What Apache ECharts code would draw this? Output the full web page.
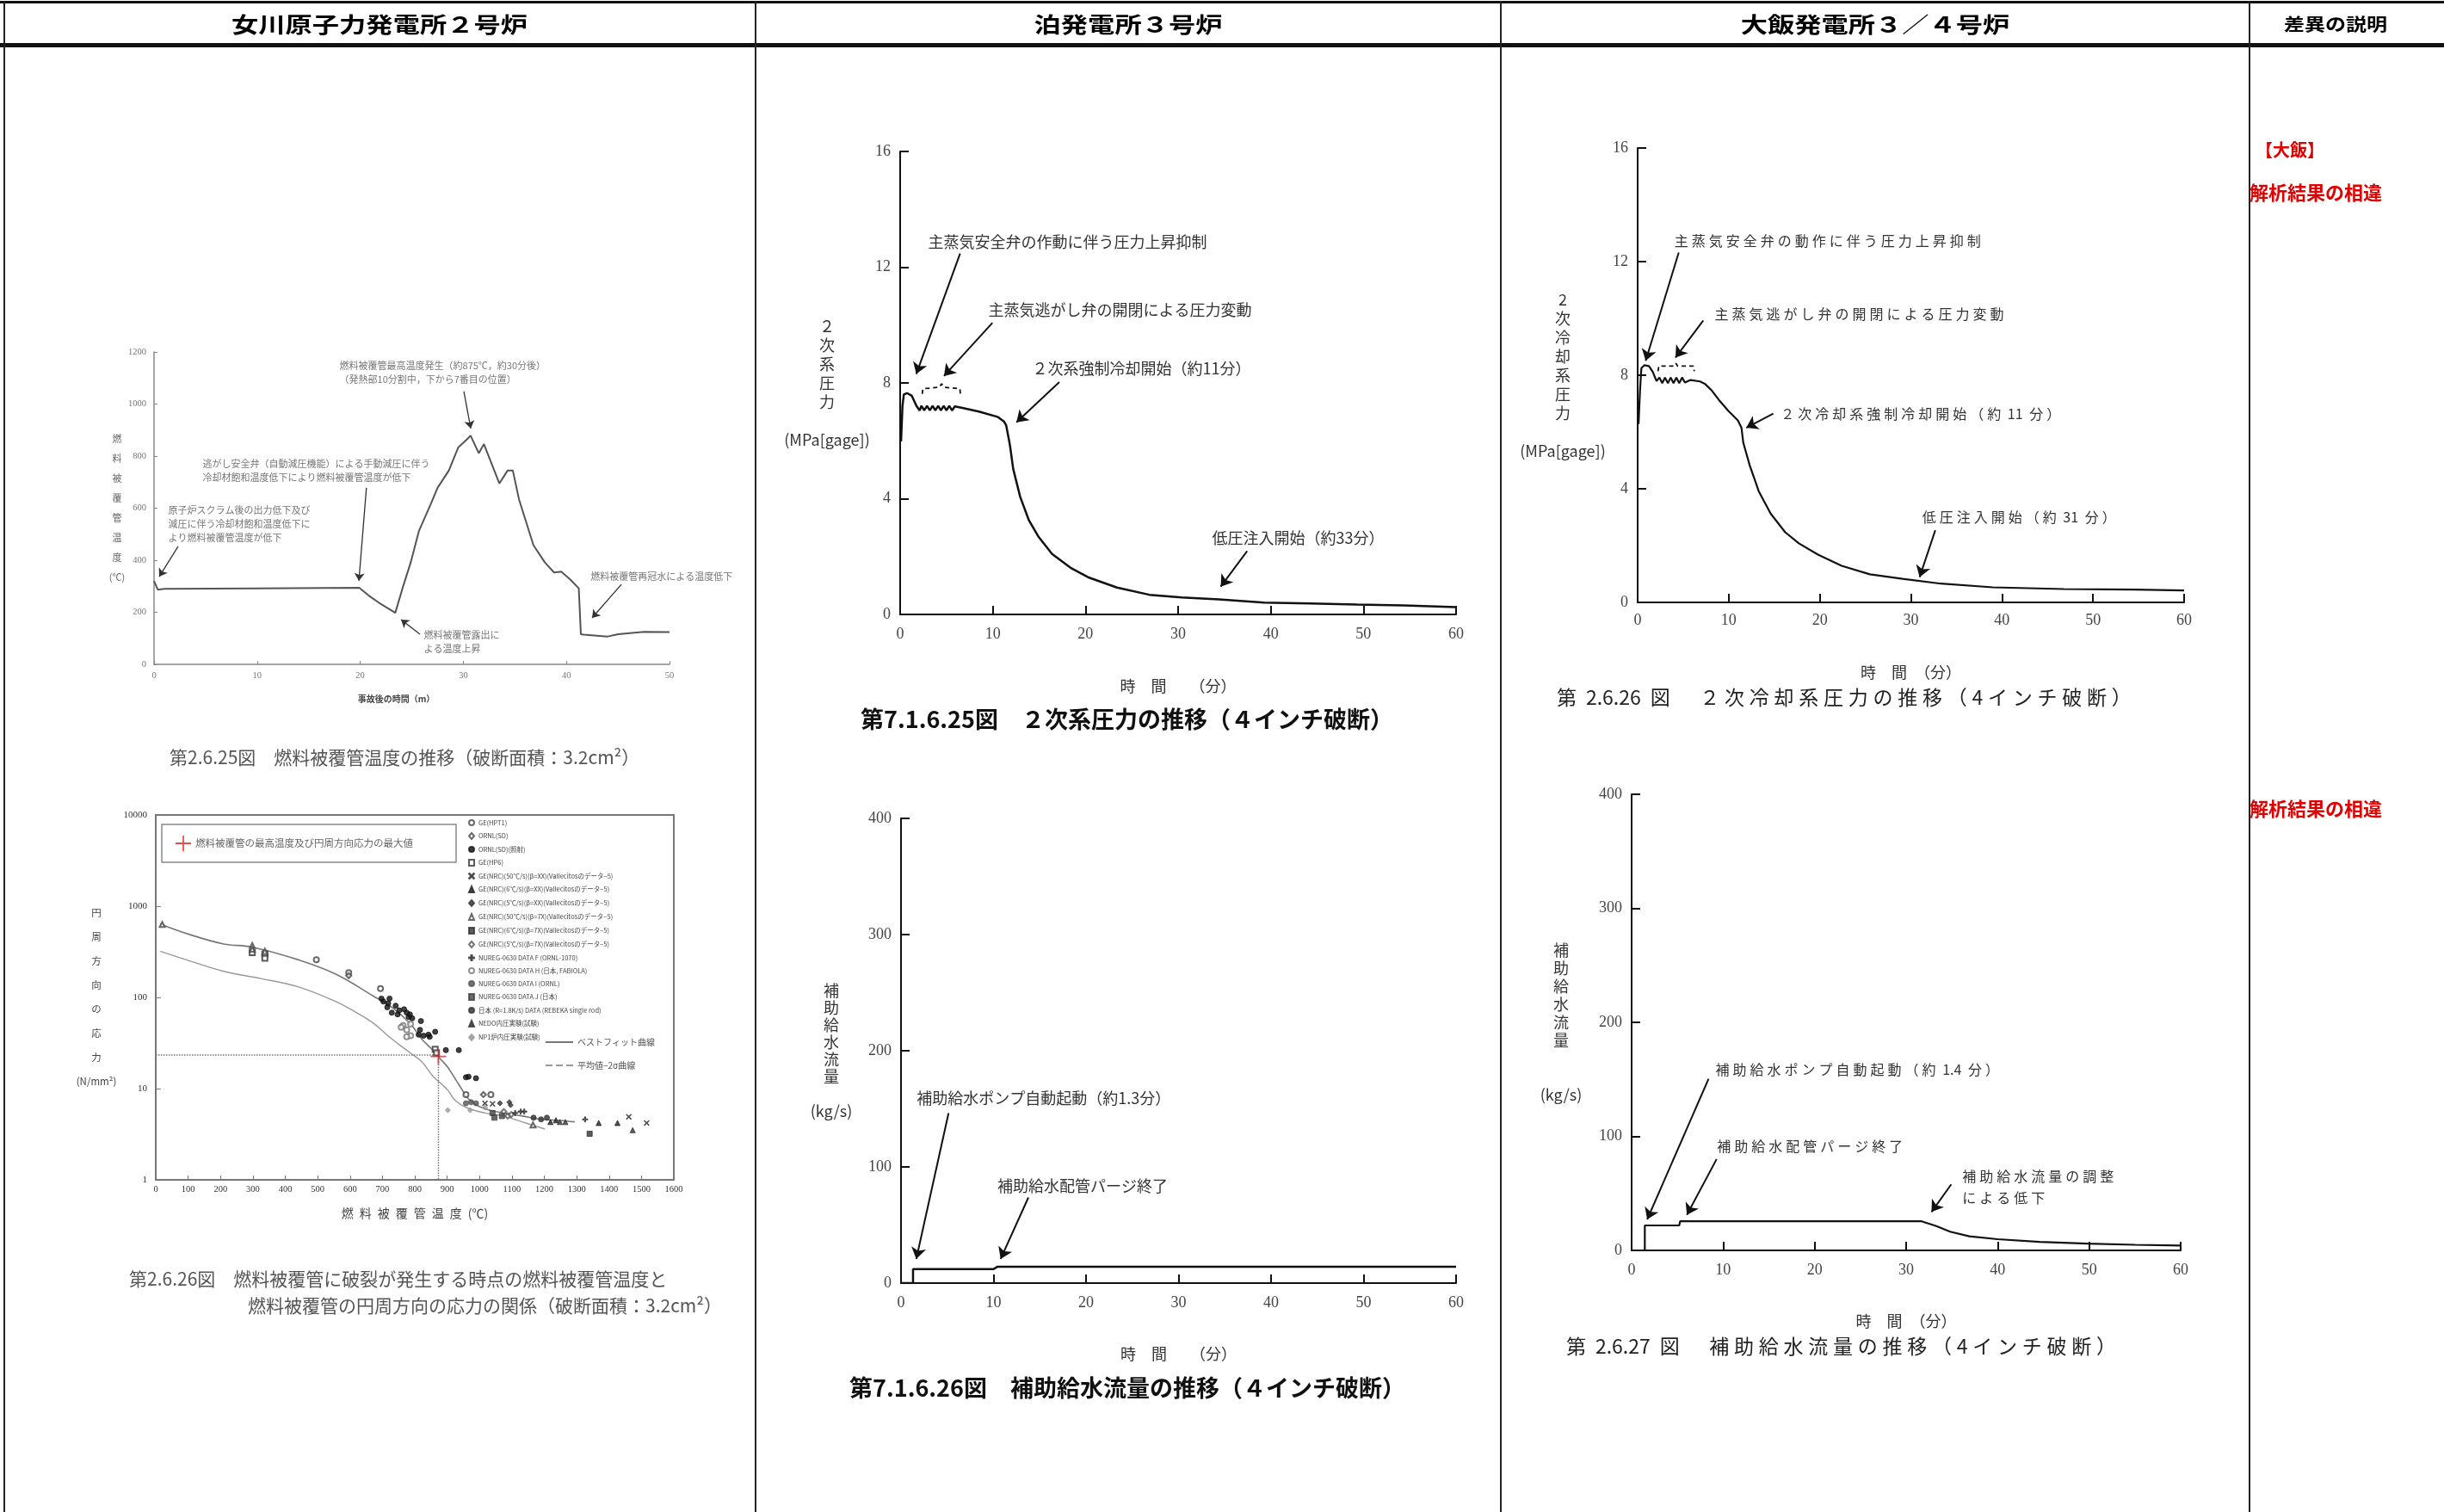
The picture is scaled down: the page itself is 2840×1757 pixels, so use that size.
<!DOCTYPE html>
<html><head><meta charset="utf-8">
<script src="https://cdn.jsdelivr.net/npm/echarts@6.0.0/dist/echarts.min.js"></script>
<style>html,body{margin:0;padding:0;background:#fff}#c{width:2840px;height:1757px}</style>
</head><body><div id="c"></div>
<script>
// ===================== DATA =====================
// A: 女川 燃料被覆管温度 (min, ℃)
const aTime = [0, 0.36, 1.0, 10, 19.9, 20.8, 21.8, 23.0, 23.4, 24.1, 24.9, 25.7, 26.8, 27.5, 28.6, 29.5, 30.4, 30.7, 31.5, 32.0, 33.5, 34.3, 34.8, 35.4, 36.8, 37.9, 38.8, 39.5, 40.4, 41.2, 41.4, 41.7, 44.0, 45.0, 47.5, 50];
const aTemp = [320, 287, 290, 292, 294, 265, 237, 208, 198, 292, 392, 513, 612, 678, 745, 833, 866, 879, 811, 846, 695, 745, 745, 634, 458, 392, 353, 356, 325, 292, 116, 114, 107, 116, 125, 124];
// B: 破裂時温度と円周方向応力
const bfT = [14, 100, 210, 296, 441, 556, 671, 729, 787, 821, 856, 879, 902, 936, 971, 1017, 1075, 1133, 1190, 1248, 1294];
const bfS = [638, 495, 385, 357, 258, 180, 104, 78, 51, 35, 26.4, 21.2, 17.1, 11.1, 7.4, 6.0, 5.4, 5.0, 4.6, 4.48, 4.32];
const m2T = [14, 95, 210, 325, 441, 556, 614, 671, 729, 787, 821, 856, 879, 902, 925, 959, 1017, 1075, 1133, 1202];
const m2S = [321, 258, 193, 161, 130, 90, 70, 52.5, 35, 24.5, 19.8, 13.7, 11.5, 9.6, 7.4, 6.2, 5.4, 5.0, 4.3, 3.6];
const bMaxPoint = [873, 22.5];
const bGuide = [[0, 23.3], [873, 23.3], [873, 1]];
const bNames = ['GE(HPT1)', 'ORNL(SD)', 'ORNL(SD)(照射)', 'GE(HP6)',
  'GE(NRC)(50℃/s)(β=XX)(Vallecitosのデータ−5)', 'GE(NRC)(6℃/s)(β=XX)(Vallecitosのデータ−5)', 'GE(NRC)(5℃/s)(β=XX)(Vallecitosのデータ−5)',
  'GE(NRC)(50℃/s)(β=7X)(Vallecitosのデータ−5)', 'GE(NRC)(6℃/s)(β=7X)(Vallecitosのデータ−5)', 'GE(NRC)(5℃/s)(β=7X)(Vallecitosのデータ−5)',
  'NUREG-0630 DATA F (ORNL-1070)', 'NUREG-0630 DATA H (日本, FABIOLA)', 'NUREG-0630 DATA I (ORNL)', 'NUREG-0630 DATA J (日本)',
  '日本 (R=1.8K/s) DATA (REBEKA single rod)', 'NEDO内圧実験(試験)', 'NP1炉内圧実験(試験)'];
const bPoints = [
  [[496,258],[596,187],[694,125],[958,8.6],[1035,8.6]],
  [[596,173],[1012,8.6]],
  [[697,97],[703,90],[718,86],[722,97],[715,78],[729,68],[741,81],[747,65],[752,72],[767,74],[775,68],[781,61],[785,65],[792,59],[819,55],[816,44],[812,39],[827,38],[842,39],[846,37],[863,42],[896,26.4],[936,26.4],[958,13.3],[966,13.5],[989,13.0]],
  [[298,310],[337,300],[337,268],[863,27],[867,24.6]],
  [[1017,6.9],[1040,6.8],[1461,4.9],[1516,4.2]],
  [[1368,4.2],[1426,4.2],[1236,4.5],[1219,4.3]],
  [[1063,6.9],[1092,7.1],[1096,6.6]],
  [[20,630],[298,371],[298,337],[337,320],[1165,4.0]],
  [[1340,3.2]],
  [[1075,5.6],[1087,5.0],[1098,5.2]],
  [[1110,5.4],[1127,5.6],[1138,5.6],[1326,4.6]],
  [[764,49],[758,47],[775,44],[787,51],[787,38],[775,37]],
  [[958,6.9],[974,7.1],[989,6.9]],
  [[1040,5.4],[1046,4.8],[1069,5.0]],
  [[1167,4.8],[1190,4.6],[1208,4.8]],
  [[1248,4.3],[1265,4.3],[1473,3.5]],
  [[902,5.8],[971,5.8],[1017,6.2]]
];
// C: 泊 2次系圧力 (min, MPa)
const cTime = [0.1, 0.25, 0.4, 0.75, 1.25, 1.75, 2.1, 2.3, 2.6, 2.9, 3.2, 3.5, 3.8, 4.1, 4.4, 4.7, 5.0, 5.3, 5.6, 5.9, 6.5, 8.5, 10.5, 11.2, 11.45, 11.85, 12.2, 12.95, 13.9, 14.9, 16.4, 18.4, 20.4, 23.4, 26.9, 30.4, 34.4, 39.3, 44.3, 49.3, 54.3, 60];
const cPres = [5.98, 7.2, 7.6, 7.65, 7.56, 7.21, 7.05, 7.21, 7.05, 7.21, 7.05, 7.21, 7.05, 7.21, 7.05, 7.21, 7.05, 7.21, 7.05, 7.19, 7.15, 7.01, 6.83, 6.67, 6.53, 5.85, 5.03, 4.07, 3.25, 2.7, 2.09, 1.61, 1.27, 0.93, 0.68, 0.59, 0.52, 0.41, 0.38, 0.34, 0.31, 0.25];
const cBrT = [2.39, 2.45, 4.2, 4.48, 4.75, 6.45, 6.5];
const cBrP = [7.62, 7.8, 7.85, 7.97, 7.85, 7.8, 7.62];
// D: 泊 補助給水流量 (min, kg/s)
const dTime = [0, 1.3, 1.3, 10.0, 10.4, 60];
const dFlow = [0, 0, 12, 12, 14, 14];
// E: 大飯 2次冷却系圧力
const eTime = [0.1, 0.26, 0.41, 0.73, 1.24, 1.66, 2.07, 2.39, 2.7, 3.0, 3.32, 3.63, 3.94, 4.25, 4.56, 4.88, 5.19, 5.81, 6.85, 7.37, 8.14, 8.92, 9.96, 11.0, 11.4, 11.6, 12.3, 13.3, 14.6, 16.2, 17.7, 19.8, 22.4, 25.5, 29.1, 33.3, 39.0, 46.8, 54.6, 60];
const ePres = [6.28, 7.46, 8.25, 8.35, 8.32, 8.12, 7.79, 7.92, 7.72, 7.92, 7.72, 7.92, 7.72, 7.92, 7.72, 7.92, 7.74, 7.83, 7.78, 7.70, 7.46, 7.13, 6.74, 6.41, 6.15, 5.62, 4.83, 3.91, 3.13, 2.47, 2.08, 1.68, 1.29, 0.99, 0.83, 0.66, 0.53, 0.47, 0.45, 0.42];
const eBrT = [2.23, 2.33, 3.99, 4.2, 4.4, 6.12, 6.22];
const eBrP = [8.14, 8.32, 8.32, 8.42, 8.32, 8.32, 8.14];
// F: 大飯 補助給水流量
const fTime = [0, 1.44, 1.44, 5.2, 5.3, 31.7, 33.3, 34.8, 36.9, 40.0, 44.6, 49.8, 55.0, 60];
const fFlow = [0, 0, 21.9, 21.9, 25.5, 25.5, 21.3, 16.4, 12.4, 9.8, 7.5, 5.9, 4.9, 4.3];

// tick settings
const tA = {xMax: 50, xInt: 10, yMax: 1200, yInt: 200};
const tB = {xMax: 1600, xInt: 100, yMin: 1, yMax: 10000};
const tP = {xMax: 60, xInt: 10, yMax: 16, yInt: 4};
const tF = {xMax: 60, xInt: 10, yMax: 400, yInt: 100};

// ===================== HELPERS =====================
const CJK = "'Noto Sans CJK JP','Noto Sans',sans-serif";
const SERIF = "'Liberation Serif','Noto Sans CJK JP',serif";
const zip = (a, b) => a.map((v, i) => [v, b[i]]);
const sp = s => {
  const asc = c => /[0-9.\s]/.test(c);
  const ch = Array.from(s);
  return ch.map((c, i) => (i > 0 && !(asc(ch[i - 1]) && asc(c)) ? '\u2005' : '') + c).join('');
};

// annotations (text in data coords)
const aNotes = [
  {t: '原子炉スクラム後の出力低下及び\n減圧に伴う冷却材飽和温度低下に\nより燃料被覆管温度が低下', at: [1.34, 539]},
  {t: '逃がし安全弁（自動減圧機能）による手動減圧に伴う\n冷却材飽和温度低下により燃料被覆管温度が低下', at: [4.67, 744]},
  {t: '燃料被覆管最高温度発生（約875℃，約30分後）\n（発熱部10分割中，下から7番目の位置）', at: [17.95, 1121]},
  {t: '燃料被覆管露出に\nよる温度上昇', at: [26.13, 88]},
  {t: '燃料被覆管再冠水による温度低下', at: [42.3, 337]}
];
const aArrows = [[[2.34,453],[0.5,337]], [[20.6,678],[19.87,321]], [[30.05,1048],[30.72,906]], [[25.79,116],[23.96,172]], [[45.33,307],[42.49,178.5]]];
const cNotes = [
  {t: '主蒸気安全弁の作動に伴う圧力上昇抑制', at: [2.97, 12.88]},
  {t: '主蒸気逃がし弁の開閉による圧力変動', at: [9.47, 10.53]},
  {t: '２次系強制冷却開始（約11分）', at: [14.21, 8.51]},
  {t: '低圧注入開始（約33分）', at: [33.62, 2.65]}
];
const cArrows = [[[6.47,12.47],[1.74,8.31]], [[9.96,10.08],[4.73,8.24]], [[17.18,8.03],[12.55,6.64]], [[37.45,2.19],[34.6,0.96]]];
const dNotes = [
  {t: '補助給水ポンプ自動起動（約1.3分）', at: [1.65, 159.5]},
  {t: '補助給水配管パージ終了', at: [10.37, 83.6]}
];
const dArrows = [[[5.14,146.3],[1.65,20.8]], [[13.77,73.7],[10.77,20.8]]];
const eNotes = [
  {t: sp('主蒸気安全弁の動作に伴う圧力上昇抑制'), at: [3.99, 12.72]},
  {t: sp('主蒸気逃がし弁の開閉による圧力変動'), at: [8.4, 10.15]},
  {t: sp('２次冷却系強制冷却開始（約 11 分）'), at: [15.66, 6.65]},
  {t: sp('低圧注入開始（約 31 分）'), at: [31.2, 3.0]}
];
const eArrows = [[[4.51,12.32],[0.88,8.51]], [[7.21,9.93],[4.15,8.62]], [[14.89,6.65],[11.93,6.15]], [[32.68,2.54],[30.96,0.89]]];
const fNotes = [
  {t: sp('補助給水ポンプ自動起動（約 1.4 分）'), at: [9.13, 158.6]},
  {t: sp('補助給水配管パージ終了'), at: [9.29, 91.6]},
  {t: sp('補助給水流量の調整') + '\n' + sp('による低下'), at: [36.1, 55.9]}
];
const fArrows = [[[8.41,150.4],[1.7,27.1]], [[9.29,80.1],[6.04,31.1]], [[34.93,57.9],[32.77,33.7]]];

function notes(list, st) {
  return {
    symbol: 'circle', symbolSize: 1, silent: true, animation: false,
    itemStyle: {color: 'rgba(0,0,0,0)'},
    label: {show: true, position: 'right', distance: 0, color: st.color, fontSize: st.fontSize,
      fontFamily: CJK, lineHeight: st.lineHeight, align: 'left', verticalAlign: 'middle'},
    data: list.map(n => ({coord: n.at, value: 0, label: {formatter: n.t}}))
  };
}
function arrows(list, st) {
  return {
    silent: true, animation: false, symbol: ['none', 'arrow'], symbolSize: st.size,
    label: {show: false}, emphasis: {disabled: true},
    lineStyle: {color: st.color, width: st.width, type: 'solid'},
    data: list.map(a => [{coord: a[0]}, {coord: a[1]}])
  };
}
const intFmt = v => String(Math.round(v));

// ===================== AXES =====================
const grids = [
  {left: 179, top: 409, width: 599, height: 363},
  {left: 181, top: 947, width: 602, height: 424, show: true, borderColor: '#777', borderWidth: 2, backgroundColor: 'transparent'},
  {left: 1046, top: 176, width: 646, height: 538},
  {left: 1047, top: 951, width: 645, height: 540},
  {left: 1903, top: 172, width: 635, height: 528},
  {left: 1896, top: 923, width: 638, height: 530}
].map(g => Object.assign({containLabel: false, outerBoundsMode: 'none'}, g));

function bigX(gi, name, gap, margin) {
  return {gridIndex: gi, type: 'value', min: 0, max: tP.xMax, interval: tP.xInt,
    name, nameLocation: 'middle', nameGap: gap, nameMoveOverlap: false,
    nameTextStyle: {fontSize: 18, color: '#333', fontFamily: CJK, verticalAlign: 'middle', align: 'center'},
    axisLine: {lineStyle: {color: '#111', width: 2}},
    axisTick: {inside: true, length: 10, lineStyle: {color: '#111', width: 2}},
    axisLabel: {margin, color: '#444', fontSize: 18, fontFamily: SERIF},
    splitLine: {show: false}};
}
function bigY(gi, t, name, gap, lh, pad) {
  return {gridIndex: gi, type: 'value', min: 0, max: t.yMax, interval: t.yInt,
    name, nameLocation: 'middle', nameGap: gap, nameRotate: 0, nameMoveOverlap: false,
    nameTextStyle: {fontSize: 18, color: '#333', fontFamily: CJK, align: 'center', verticalAlign: 'middle', lineHeight: lh, padding: pad},
    axisLine: {lineStyle: {color: '#111', width: 2}},
    axisTick: {inside: true, length: 10, lineStyle: {color: '#111', width: 2}},
    axisLabel: {margin: 11, color: '#444', fontSize: 18, fontFamily: SERIF},
    splitLine: {show: false}};
}

const xAxes = [
  {gridIndex: 0, type: 'value', min: 0, max: tA.xMax, interval: tA.xInt,
    name: '事故後の時間（m）', nameLocation: 'middle', nameGap: 40, nameMoveOverlap: false,
    nameTextStyle: {fontSize: 10, fontWeight: 'bold', color: '#444', fontFamily: CJK, verticalAlign: 'middle', align: 'center', padding: [0, 36, 0, 0]},
    axisLine: {lineStyle: {color: '#888', width: 1.5}},
    axisTick: {inside: true, length: 4, lineStyle: {color: '#888'}},
    axisLabel: {margin: 8, color: '#777', fontSize: 10.5, fontFamily: SERIF, formatter: intFmt},
    splitLine: {show: false}},
  {gridIndex: 1, type: 'value', min: 0, max: tB.xMax, interval: tB.xInt,
    name: '燃\u2002料\u2002被\u2002覆\u2002管\u2002温\u2002度\u2002(℃)', nameLocation: 'middle', nameGap: 39, nameMoveOverlap: false,
    nameTextStyle: {fontSize: 14, color: '#444', fontFamily: CJK, verticalAlign: 'middle', align: 'center'},
    axisLine: {lineStyle: {color: '#777', width: 2}},
    axisTick: {inside: true, length: 5, lineStyle: {color: '#777'}},
    axisLabel: {margin: 6, color: '#333', fontSize: 10.5, fontFamily: SERIF, formatter: intFmt},
    splitLine: {show: false}},
  bigX(2, '時　間　　（分）', 83, 14),
  bigX(3, '時　間　　（分）', 82, 14),
  bigX(4, '時　間　（分）', 81, 12),
  bigX(5, '時　間　（分）', 82, 14)
];
const yAxes = [
  {gridIndex: 0, type: 'value', min: 0, max: tA.yMax, interval: tA.yInt,
    name: '燃\n料\n被\n覆\n管\n温\n度\n(℃)', nameLocation: 'middle', nameGap: 43, nameRotate: 0, nameMoveOverlap: false,
    nameTextStyle: {fontSize: 11, color: '#666', fontFamily: CJK, align: 'center', verticalAlign: 'middle', lineHeight: 23, padding: [4, 0, 0, 0]},
    axisLine: {lineStyle: {color: '#888', width: 1.5}},
    axisTick: {inside: true, length: 4, lineStyle: {color: '#888'}},
    axisLabel: {margin: 9, color: '#777', fontSize: 10.5, fontFamily: SERIF, formatter: intFmt},
    splitLine: {show: false}},
  {gridIndex: 1, type: 'log', logBase: 10, min: tB.yMin, max: tB.yMax,
    name: '円\n周\n方\n向\nの\n応\n力\n(N/mm²)', nameLocation: 'middle', nameGap: 69, nameRotate: 0, nameMoveOverlap: false,
    nameTextStyle: {fontSize: 11.5, color: '#444', fontFamily: CJK, align: 'center', verticalAlign: 'middle', lineHeight: 28, padding: [0, 0, 10, 0]},
    axisLine: {lineStyle: {color: '#777', width: 2}},
    axisTick: {inside: true, length: 6, lineStyle: {color: '#777'}},
    axisLabel: {margin: 10, color: '#333', fontSize: 11, fontFamily: SERIF, formatter: intFmt},
    splitLine: {show: false}},
  bigY(2, tP, '２\n次\n系\n圧\n力\n\n(MPa[gage])', 85, 22, [42, 0, 0, 0]),
  bigY(3, tF, '補\n助\n給\n水\n流\n量\n\n(kg/s)', 81, 20, [40, 0, 0, 0]),
  bigY(4, tP, '2\n次\n冷\n却\n系\n圧\n力\n\n(MPa[gage])', 87, 22, [0, 0, 0, 0]),
  bigY(5, tF, '補\n助\n給\n水\n流\n量\n\n\n(kg/s)', 82, 21, [64, 0, 0, 0])
];

// ===================== SERIES =====================
const bigNote = {fontSize: 18, color: '#333', lineHeight: 22};
const spNote = {fontSize: 16, color: '#333', lineHeight: 25};
const bigArrow = {color: '#111', width: 2, size: 13};
const series = [
  {type: 'line', name: '燃料被覆管温度', xAxisIndex: 0, yAxisIndex: 0, data: zip(aTime, aTemp), symbol: 'none',
    lineStyle: {color: '#555', width: 2},
    markPoint: notes(aNotes, {fontSize: 11, color: '#777', lineHeight: 16}),
    markLine: arrows(aArrows, {color: '#333', width: 1.3, size: 9})},
  {type: 'line', name: 'ベストフィット曲線', xAxisIndex: 1, yAxisIndex: 1, data: zip(bfT, bfS), symbol: 'none', showSymbol: false, smooth: 0.4,
    lineStyle: {color: '#777', width: 1.6}, itemStyle: {color: '#777'}},
  {type: 'line', name: '平均値−2σ曲線', xAxisIndex: 1, yAxisIndex: 1, data: zip(m2T, m2S), symbol: 'none', showSymbol: false, smooth: 0.4,
    lineStyle: {color: '#999', width: 1.4}, itemStyle: {color: '#999'}},
  {type: 'line', name: 'guide', xAxisIndex: 1, yAxisIndex: 1, data: bGuide, symbol: 'none', silent: true,
    lineStyle: {color: '#777', width: 1.5, type: 'dotted'}},
];
const bSymbols = ['emptyCircle', 'emptyDiamond', 'circle', 'emptyRect',
  'path://M1,0L5,4L9,0L10,1L6,5L10,9L9,10L5,6L1,10L0,9L4,5L0,1Z', 'triangle', 'diamond',
  'emptyTriangle', 'rect', 'emptyDiamond', 'path://M4,0H6V4H10V6H6V10H4V6H0V4H4Z', 'emptyCircle',
  'circle', 'rect', 'circle', 'triangle', 'diamond'];
const bColors = ['#444', '#444', '#111', '#333', '#333', '#222', '#333', '#444', '#333', '#555', '#333', '#777', '#555', '#444', '#333', '#333', '#999'];
bNames.forEach((nm, i) => series.push({
  type: 'scatter', name: nm, xAxisIndex: 1, yAxisIndex: 1, symbol: bSymbols[i], symbolSize: 6, z: 5,
  itemStyle: {color: bColors[i], borderColor: bColors[i], borderWidth: 1}, data: bPoints[i]
}));
series.push({type: 'scatter', name: '燃料被覆管の最高温度及び円周方向応力の最大値', xAxisIndex: 1, yAxisIndex: 1, z: 6,
  symbol: 'path://M9,0H11V9H20V11H11V20H9V11H0V9H9Z', symbolSize: 18, itemStyle: {color: '#e02020'}, data: [bMaxPoint]});
series.push(
  {type: 'line', name: '２次系圧力', xAxisIndex: 2, yAxisIndex: 2, data: zip(cTime, cPres), symbol: 'none',
    lineStyle: {color: '#111', width: 2.5},
    markPoint: notes(cNotes, bigNote), markLine: arrows(cArrows, bigArrow)},
  {type: 'line', name: 'c-bracket', xAxisIndex: 2, yAxisIndex: 2, data: zip(cBrT, cBrP), symbol: 'none', silent: true,
    lineStyle: {color: '#111', width: 1.8, type: [5, 4]}},
  {type: 'line', name: '補助給水流量(泊)', xAxisIndex: 3, yAxisIndex: 3, data: zip(dTime, dFlow), symbol: 'none',
    lineStyle: {color: '#111', width: 2.5},
    markPoint: notes(dNotes, bigNote), markLine: arrows(dArrows, bigArrow)},
  {type: 'line', name: '２次冷却系圧力', xAxisIndex: 4, yAxisIndex: 4, data: zip(eTime, ePres), symbol: 'none',
    lineStyle: {color: '#111', width: 2.2},
    markPoint: notes(eNotes, spNote), markLine: arrows(eArrows, bigArrow)},
  {type: 'line', name: 'e-bracket', xAxisIndex: 4, yAxisIndex: 4, data: zip(eBrT, eBrP), symbol: 'none', silent: true,
    lineStyle: {color: '#111', width: 1.8, type: [5, 4]}},
  {type: 'line', name: '補助給水流量(大飯)', xAxisIndex: 5, yAxisIndex: 5, data: zip(fTime, fFlow), symbol: 'none',
    lineStyle: {color: '#111', width: 2.2},
    markPoint: notes(fNotes, spNote), markLine: arrows(fArrows, bigArrow)}
);

// ===================== LEGENDS =====================
const legends = [
  {data: ['燃料被覆管の最高温度及び円周方向応力の最大値'], left: 188, top: 958, orient: 'vertical', selectedMode: false,
    itemWidth: 18, itemHeight: 18, padding: [13, 50, 13, 16], borderColor: '#888', borderWidth: 1.5,
    textStyle: {fontSize: 11.5, color: '#666', fontFamily: CJK}},
  {data: bNames, left: 544, top: 952, orient: 'vertical', selectedMode: false, padding: 0,
    itemWidth: 6, itemHeight: 7, itemGap: 7, textStyle: {fontSize: 7.5, lineHeight: 8, color: '#444', fontFamily: CJK}},
  {data: [{name: 'ベストフィット曲線', itemStyle: {opacity: 0}},
          {name: '平均値−2σ曲線', itemStyle: {opacity: 0}, lineStyle: {type: 'dashed'}}],
    left: 633, top: 1206, orient: 'vertical',
    selectedMode: false, padding: 0, itemWidth: 32, itemHeight: 10, itemGap: 17, itemStyle: {opacity: 0},
    textStyle: {fontSize: 10, lineHeight: 10, color: '#555', fontFamily: CJK}}
];

// ===================== PAGE (table, headers, captions) =====================
const G = [];
G.push({type: 'rect', shape: {x: 0, y: 1, width: 2840, height: 3}, style: {fill: '#111'}});
G.push({type: 'rect', shape: {x: 0, y: 50, width: 2840, height: 5}, style: {fill: '#111'}});
[5, 878, 1744, 2614].forEach(x => G.push({type: 'rect', shape: {x: x - 1, y: 1, width: 2, height: 1756}, style: {fill: '#222'}}));
const txt = (x, y, text, o) => ({type: 'text', x, y, scaleX: o.sx || 1, style: {text, fill: o.fill || '#222',
  fontSize: o.size, fontWeight: o.weight || 'normal', fontFamily: CJK, align: o.align || 'left', verticalAlign: 'middle',
  textAlign: o.align || 'left', textVerticalAlign: 'middle', lineHeight: o.lh}});
G.push(txt(441, 28, '女川原子力発電所２号炉', {size: 25, weight: 'bold', align: 'center', sx: 1.25, fill: '#000'}));
G.push(txt(1311, 28, '泊発電所３号炉', {size: 25, weight: 'bold', align: 'center', sx: 1.25, fill: '#000'}));
G.push(txt(2179, 28, '大飯発電所３／４号炉', {size: 25, weight: 'bold', align: 'center', sx: 1.25, fill: '#000'}));
G.push(txt(2714, 28, '差異の説明', {size: 20, weight: 'bold', align: 'center', sx: 1.2, fill: '#000'}));
G.push(txt(197, 880, '第2.6.25図　燃料被覆管温度の推移（破断面積：3.2cm²）', {size: 21, fill: '#555'}));
G.push(txt(150, 1486, '第2.6.26図　燃料被覆管に破裂が発生する時点の燃料被覆管温度と', {size: 21, fill: '#555'}));
G.push(txt(288, 1517, '燃料被覆管の円周方向の応力の関係（破断面積：3.2cm²）', {size: 21, fill: '#555'}));
G.push(txt(1000, 836, '第7.1.6.25図　２次系圧力の推移（４インチ破断）', {size: 27, weight: 'bold', fill: '#111'}));
G.push(txt(987, 1613, '第7.1.6.26図　補助給水流量の推移（４インチ破断）', {size: 27, weight: 'bold', fill: '#111'}));
G.push(txt(1809, 810, sp('第 2.6.26 図　２次冷却系圧力の推移（4インチ破断）'), {size: 23, fill: '#222'}));
G.push(txt(1820, 1564, sp('第 2.6.27 図　補助給水流量の推移（4インチ破断）'), {size: 23, fill: '#222'}));
G.push(txt(2621, 174, '【大飯】', {size: 20, weight: 'bold', fill: '#e00000'}));
G.push(txt(2614, 224, '解析結果の相違', {size: 22, weight: 'bold', fill: '#e00000'}));
G.push(txt(2614, 940, '解析結果の相違', {size: 22, weight: 'bold', fill: '#e00000'}));

const chart = echarts.init(document.getElementById('c'), null, {renderer: 'canvas', width: 2840, height: 1757});
chart.setOption({
  backgroundColor: '#fff',
  animation: false,
  grid: grids,
  xAxis: xAxes,
  yAxis: yAxes,
  legend: legends,
  series,
  graphic: G
});
</script>
</body></html>
